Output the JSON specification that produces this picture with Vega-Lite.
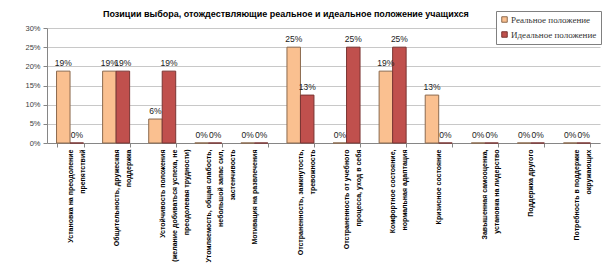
{
  "$schema": "https://vega.github.io/schema/vega-lite/v6.json",
  "width": 553,
  "height": 115,
  "autosize": {"type": "none"},
  "padding": {"left": 47, "top": 28, "right": 5, "bottom": 134},
  "background": "white",
  "title": {
    "text": "Позиции выбора, отождествляющие реальное и идеальное положение учащихся",
    "anchor": "start",
    "dx": 78,
    "offset": -8,
    "font": "Liberation Sans",
    "fontSize": 9,
    "fontWeight": "bold",
    "color": "#000000"
  },
  "data": {
    "values": [
      {"cat": "Установка на преодоление|препятствий", "series": "Реальное положение", "value": 0.1875},
      {"cat": "Установка на преодоление|препятствий", "series": "Идеальное положение", "value": 0},
      {"cat": "Общительность, дружеская|поддержка", "series": "Реальное положение", "value": 0.1875},
      {"cat": "Общительность, дружеская|поддержка", "series": "Идеальное положение", "value": 0.1875},
      {"cat": "Устойчивость положения|(желание добиваться успеха, не|преодолевая трудности)", "series": "Реальное положение", "value": 0.0625},
      {"cat": "Устойчивость положения|(желание добиваться успеха, не|преодолевая трудности)", "series": "Идеальное положение", "value": 0.1875},
      {"cat": "Утомляемость, общая слабость,|небольшой запас сил,|застенчивость", "series": "Реальное положение", "value": 0},
      {"cat": "Утомляемость, общая слабость,|небольшой запас сил,|застенчивость", "series": "Идеальное положение", "value": 0},
      {"cat": "Мотивация на развлечения", "series": "Реальное положение", "value": 0},
      {"cat": "Мотивация на развлечения", "series": "Идеальное положение", "value": 0},
      {"cat": "Отстраненность, замкнутость,|тревожность", "series": "Реальное положение", "value": 0.25},
      {"cat": "Отстраненность, замкнутость,|тревожность", "series": "Идеальное положение", "value": 0.125},
      {"cat": "Отстраненность от учебного|процесса, уход в себя", "series": "Реальное положение", "value": 0},
      {"cat": "Отстраненность от учебного|процесса, уход в себя", "series": "Идеальное положение", "value": 0.25},
      {"cat": "Комфортное состояние,|нормальная адаптация", "series": "Реальное положение", "value": 0.1875},
      {"cat": "Комфортное состояние,|нормальная адаптация", "series": "Идеальное положение", "value": 0.25},
      {"cat": "Кризисное состояние", "series": "Реальное положение", "value": 0.125},
      {"cat": "Кризисное состояние", "series": "Идеальное положение", "value": 0},
      {"cat": "Завышенная самооценка,|установка на лидерство", "series": "Реальное положение", "value": 0},
      {"cat": "Завышенная самооценка,|установка на лидерство", "series": "Идеальное положение", "value": 0},
      {"cat": "Поддержка другого", "series": "Реальное положение", "value": 0},
      {"cat": "Поддержка другого", "series": "Идеальное положение", "value": 0},
      {"cat": "Потребность в поддержке|окружающих", "series": "Реальное положение", "value": 0},
      {"cat": "Потребность в поддержке|окружающих", "series": "Идеальное положение", "value": 0}
    ]
  },
  "encoding": {
    "x": {
      "field": "cat",
      "type": "nominal",
      "sort": null,
      "scale": {"paddingInner": 0.414, "paddingOuter": 0.207},
      "axis": {
        "title": null,
        "labelExpr": "split(datum.label, '|')",
        "labelAngle": -90,
        "labelAlign": "right",
        "labelBaseline": "middle",
        "labelFont": "Liberation Sans",
        "labelFontSize": 7,
        "labelFontWeight": "bold",
        "labelColor": "#000000",
        "labelLineHeight": 12,
        "labelPadding": 2,
        "labelLimit": 200,
        "tickBand": "extent",
        "tickSize": 4,
        "tickColor": "#868686",
        "domainColor": "#868686",
        "grid": false
      }
    },
    "xOffset": {
      "field": "series",
      "type": "nominal",
      "sort": ["Реальное положение", "Идеальное положение"],
      "scale": {"paddingInner": 0, "paddingOuter": 0}
    },
    "y": {
      "field": "value",
      "type": "quantitative",
      "scale": {"domain": [0, 0.3], "nice": false},
      "axis": {
        "title": null,
        "format": ".0%",
        "values": [0, 0.05, 0.1, 0.15, 0.2, 0.25, 0.3],
        "labelFont": "Liberation Sans",
        "labelFontSize": 7.5,
        "labelColor": "#404040",
        "labelPadding": 3,
        "tickSize": 4,
        "tickColor": "#868686",
        "domainColor": "#868686",
        "gridColor": "#C8C8C8",
        "gridWidth": 1
      }
    }
  },
  "layer": [
    {
      "mark": {"type": "bar", "strokeWidth": 1},
      "encoding": {
        "color": {
          "field": "series",
          "type": "nominal",
          "sort": ["Реальное положение", "Идеальное положение"],
          "scale": {"domain": ["Реальное положение", "Идеальное положение"], "range": ["#FAC090", "#C0504D"]},
          "legend": {
            "title": null,
            "orient": "none",
            "legendX": 449,
            "legendY": -17,
            "fillColor": "white",
            "strokeColor": "#808080",
            "padding": 4,
            "symbolType": "square",
            "symbolSize": 30,
            "symbolStrokeWidth": 1,
            "labelFont": "Liberation Serif",
            "labelFontSize": 9,
            "labelColor": "#333333",
            "labelOffset": 2,
            "rowPadding": 4
          }
        },
        "stroke": {
          "field": "series",
          "type": "nominal",
          "scale": {"domain": ["Реальное положение", "Идеальное положение"], "range": ["#8C6A4E", "#7A3533"]},
          "legend": null
        }
      }
    },
    {
      "mark": {"type": "text", "baseline": "bottom", "dy": -3, "font": "Liberation Sans", "fontSize": 8.5, "color": "#1a1a1a"},
      "encoding": {
        "text": {"field": "value", "type": "quantitative", "format": ".0%"}
      }
    }
  ],
  "config": {
    "view": {"stroke": null}
  }
}
